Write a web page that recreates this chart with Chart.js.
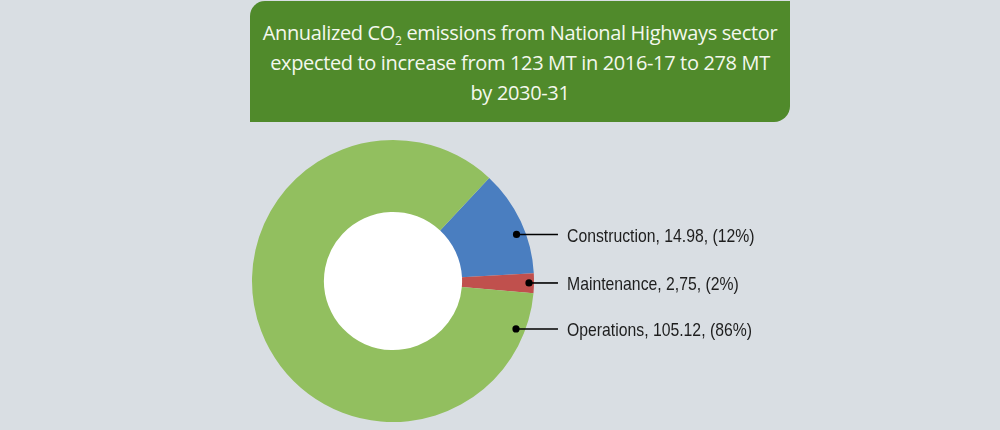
<!DOCTYPE html>
<html>
<head>
<meta charset="utf-8">
<script src="https://cdn.jsdelivr.net/npm/chart.js@4.4.1/dist/chart.umd.min.js"></script>
<style>
  html, body { margin: 0; padding: 0; background: #d9dee3; }
  #wrap { position: relative; width: 1000px; height: 430px; overflow: hidden; background: #d9dee3; }
  #title {
    position: absolute; left: 250px; top: 1px; width: 540px; height: 121px;
    background: #508a2b; border-radius: 15px 0 16px 0;
    color: #f4f8ee; font-family: "Open Sans", Lato, sans-serif; font-size: 20px;
    line-height: 30px; text-align: center; box-sizing: border-box; padding-top: 17px;
    letter-spacing: -0.35px;
  }
  #title sub { font-size: 12px; line-height: 0; vertical-align: -5px; }
  canvas { position: absolute; left: 0; top: 0; }
</style>
</head>
<body>
<div id="wrap">
  <canvas id="c" width="1000" height="430"></canvas>
  <div id="title">Annualized CO<sub>2</sub> emissions from National Highways sector<br>expected to increase from 123 MT in 2016-17 to 278 MT<br>by 2030-31</div>
</div>
<script>
const categories = ["Construction", "Maintenance", "Operations"];
const values = [14.98, 2.75, 105.12];
const valueLabels = ["14.98", "2,75", "105.12"];
const percentLabels = ["12%", "2%", "86%"];
const colors = ["#4a7ec0", "#c0504d", "#92bf5f"];

const holePlugin = {
  id: 'whiteHole',
  beforeDatasetsDraw(chart) {
    const arc = chart.getDatasetMeta(0).data[0];
    if (!arc) return;
    const ctx = chart.ctx;
    ctx.save();
    ctx.fillStyle = '#ffffff';
    ctx.beginPath();
    ctx.arc(arc.x, arc.y, arc.innerRadius + 1, 0, Math.PI * 2);
    ctx.fill();
    ctx.restore();
  }
};

const labelPlugin = {
  id: 'leaderLabels',
  afterDraw(chart) {
    const ctx = chart.ctx;
    const meta = chart.getDatasetMeta(0);
    const arc0 = meta.data[0];
    const cx = arc0.x, cy = arc0.y, R = arc0.outerRadius;
    const rows = [-0.33 * R, 0.014 * R, 0.34 * R];
    ctx.save();
    ctx.font = '19px "Liberation Sans Narrow", "Arial Narrow", "Liberation Sans", sans-serif';
    ctx.textBaseline = 'middle';
    meta.data.forEach((arc, i) => {
      const dy = rows[i];
      const rd = i === 1 ? R - 5 : R - 9;
      const dotX = cx + Math.sqrt(rd * rd - dy * dy);
      const dotY = cy + dy;
      const lineEnd = cx + R * 1.17;
      ctx.strokeStyle = '#000';
      ctx.lineWidth = 1.6;
      ctx.beginPath();
      ctx.moveTo(dotX, dotY);
      ctx.lineTo(lineEnd, dotY);
      ctx.stroke();
      ctx.fillStyle = '#000';
      ctx.beginPath();
      ctx.arc(dotX, dotY, 3.6, 0, Math.PI * 2);
      ctx.fill();
      ctx.fillStyle = '#1e1e1e';
      const txt = categories[i] + ', ' + valueLabels[i] + ', (' + percentLabels[i] + ')';
      const w = ctx.measureText(txt).width;
      ctx.fillText(txt, cx + R * 1.234, dotY + 2, w * 0.83);
    });
    ctx.restore();
  }
};

new Chart(document.getElementById('c'), {
  type: 'doughnut',
  data: {
    labels: categories,
    datasets: [{
      data: values,
      backgroundColor: colors,
      borderWidth: 0,
      hoverOffset: 0
    }]
  },
  options: {
    responsive: false,
    animation: false,
    rotation: 43,
    cutout: '49%',
    layout: { padding: { left: 252, right: 466, top: 140, bottom: 8 } },
    plugins: { legend: { display: false }, tooltip: { enabled: false }, title: { display: false } }
  },
  plugins: [holePlugin, labelPlugin]
});
</script>
</body>
</html>
